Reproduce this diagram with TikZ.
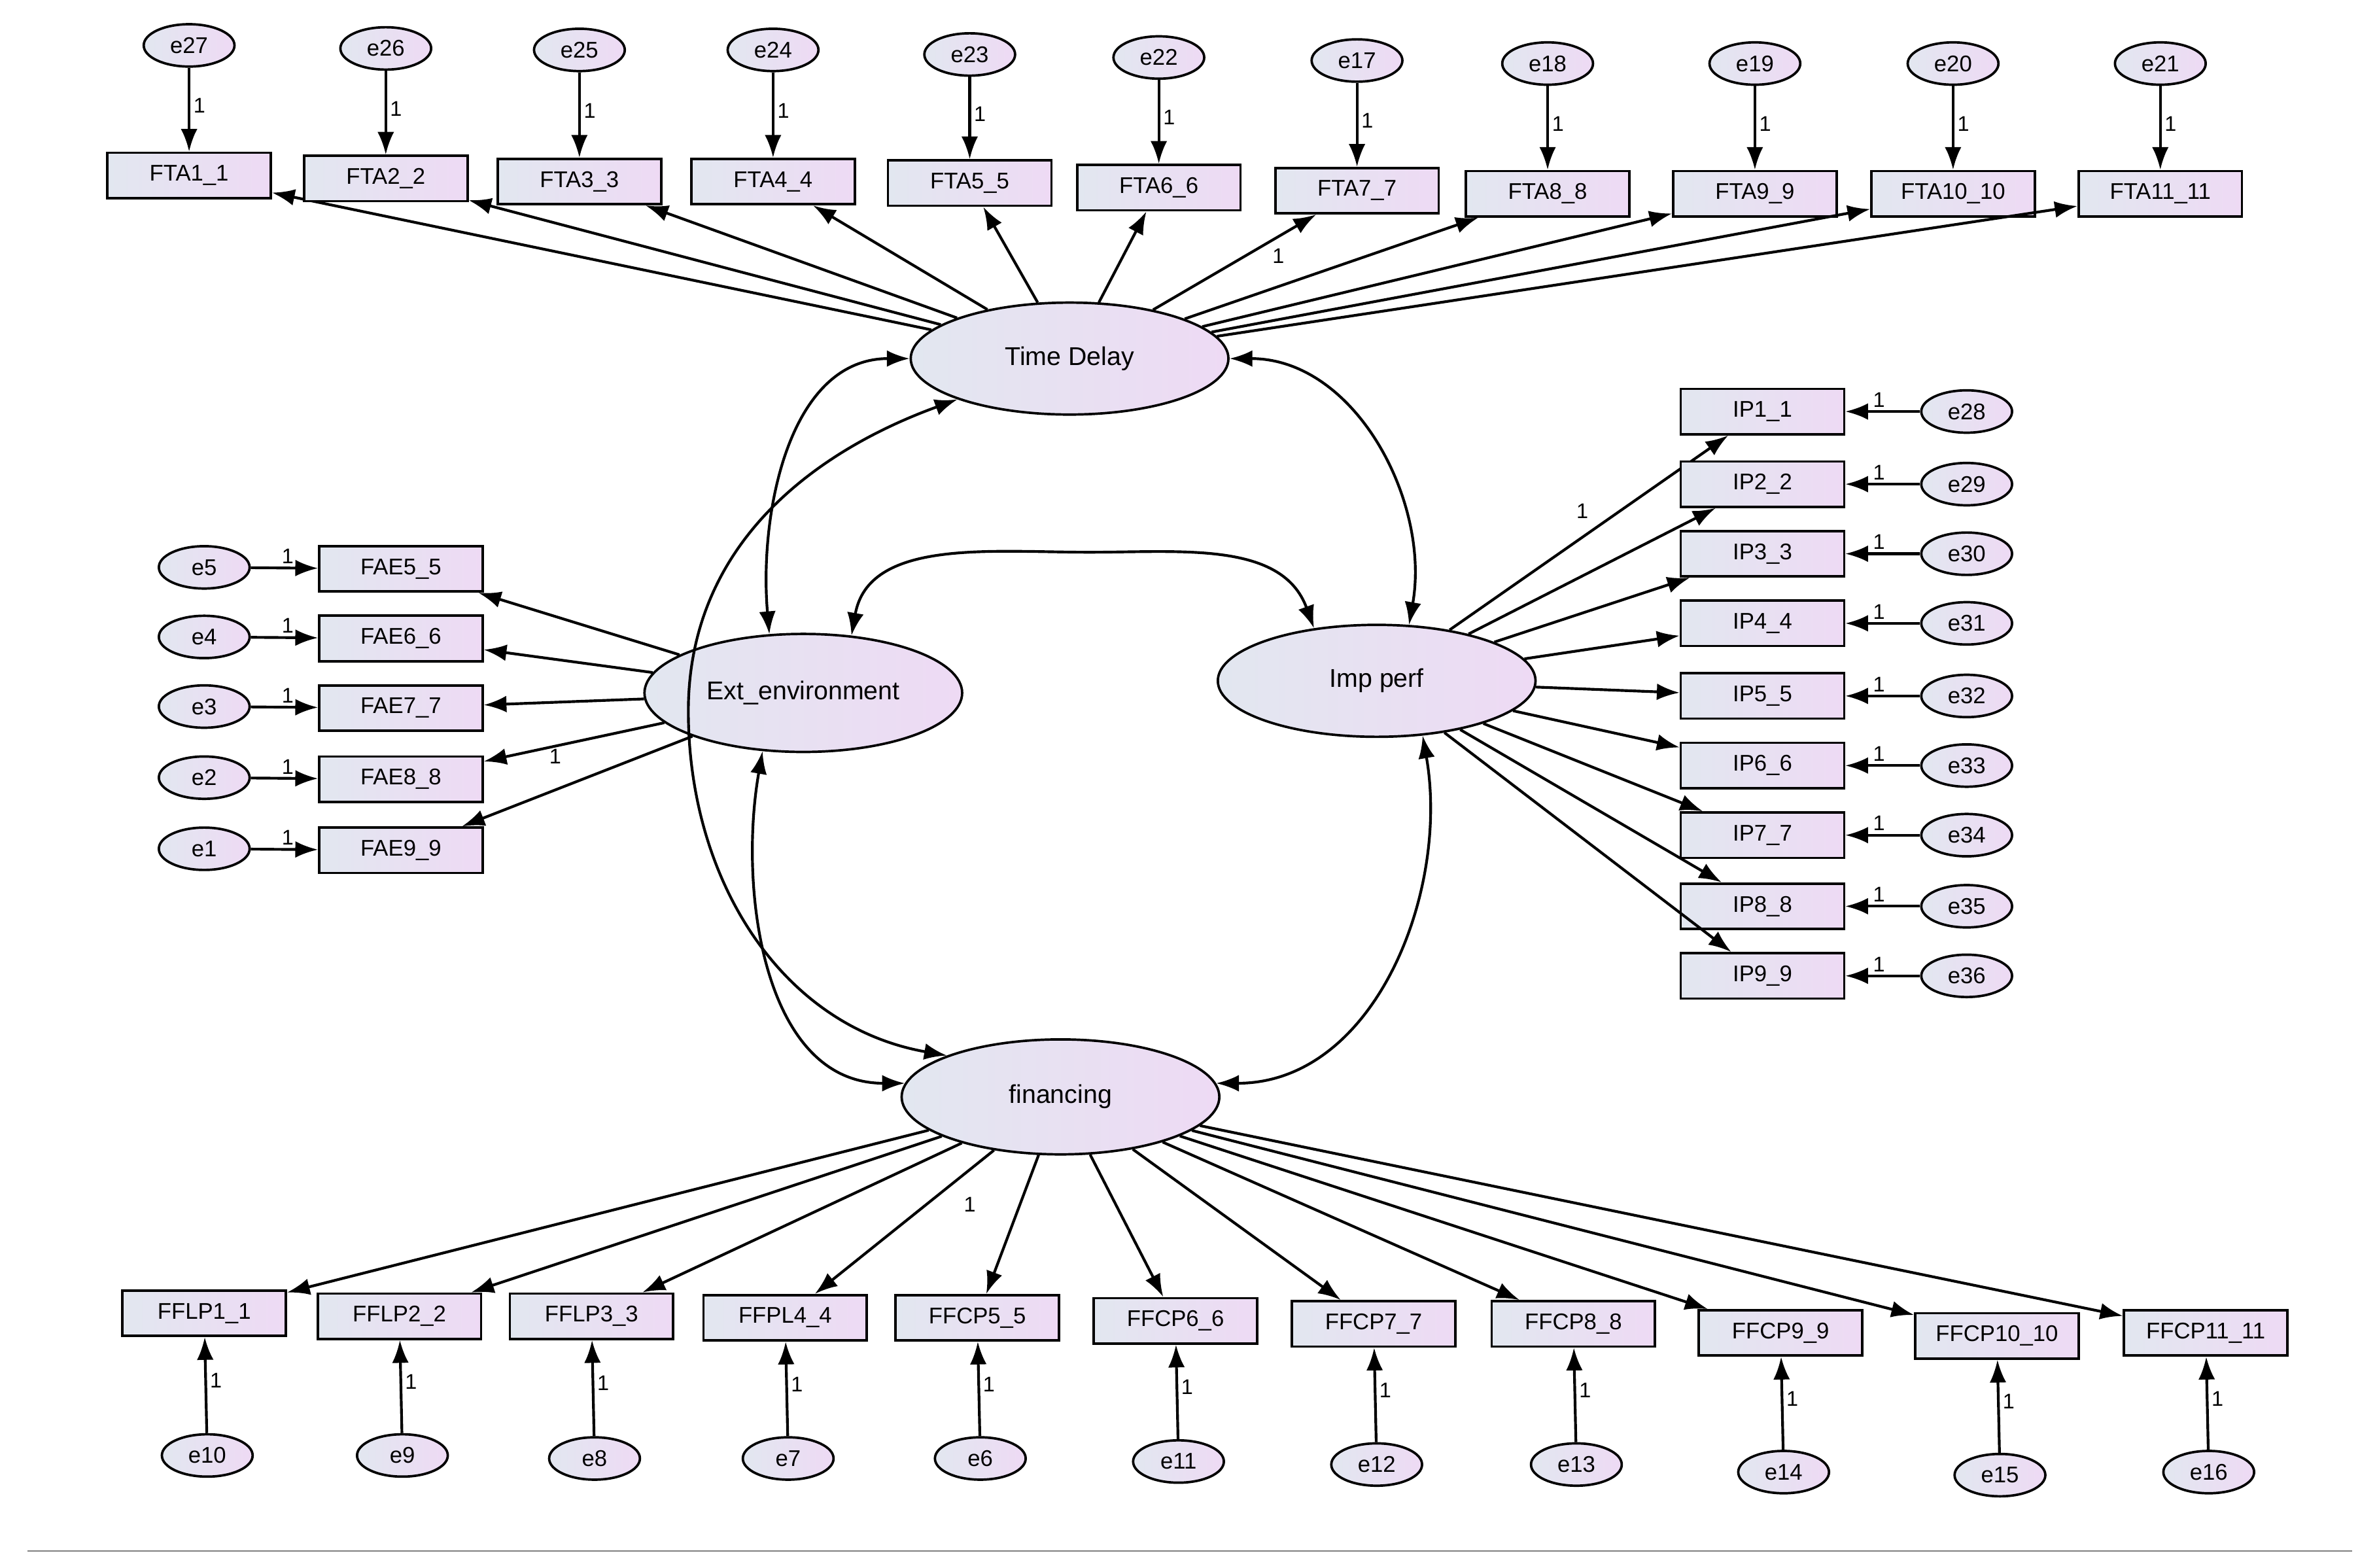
\documentclass[tikz,border=0pt]{standalone}
\usepackage{fontspec}
\setmainfont{Liberation Sans}
\usetikzlibrary{arrows.meta,shapes.geometric}
\definecolor{cL}{RGB}{226,231,240}
\definecolor{cR}{RGB}{238,218,244}
\tikzset{
 base/.style={draw=black,line width=1.6pt,left color=cL,right color=cR,font=\fontsize{15}{17}\selectfont,inner sep=0pt},
 obs/.style={base,minimum width=108pt,minimum height=30pt},
 err/.style={base,ellipse,minimum width=60pt,minimum height=28pt},
 lat/.style={base,ellipse,minimum width=210pt,minimum height=74pt,font=\fontsize{17}{19}\selectfont},
 ar/.style={line width=1.8pt,-{Latex[length=15pt,width=11pt]}},
 dar/.style={line width=1.8pt,{Latex[length=15pt,width=11pt]}-{Latex[length=15pt,width=11pt]}},
 one/.style={font=\fontsize{14}{16}\selectfont,inner sep=2pt}
}
\AtBeginDocument{\catcode`\_=12 }
\begin{document}
\begin{tikzpicture}[x=1pt,y=-1pt]
\useasboundingbox (0,0) rectangle (1560,1036);
\draw[gray,line width=1pt] (18,1025) -- (1555,1025);
% latents
\node[lat] (TD) at (707,237) {Time Delay};
\node[lat,minimum height=78pt] (EE) at (531,458) {Ext_environment};
\node[lat] (IP) at (910,450) {Imp perf};
\node[lat,minimum height=76pt] (FI) at (701,725) {financing};
% top
\foreach \n/\x/\y/\e/\ey in {FTA1_1/125/116/e27/30,FTA2_2/255/118/e26/32,FTA3_3/383/120/e25/33,FTA4_4/511/120/e24/33,FTA5_5/641/121/e23/36,FTA6_6/766/124/e22/38,FTA7_7/897/126/e17/40,FTA8_8/1023/128/e18/42,FTA9_9/1160/128/e19/42,FTA10_10/1291/128/e20/42,FTA11_11/1428/128/e21/42}{
 \node[obs] (\n) at (\x,\y) {\n};
 \node[err] (\e) at (\x,\ey) {\e};
 \draw[ar] (\e) -- node[one,pos=0.45,right]{1} (\n);
 \draw[ar] (TD) -- (\n);
}
\node[one] at (845,169) {1};
% left
\foreach \n/\y/\e in {FAE5_5/376/e5,FAE6_6/422/e4,FAE7_7/468/e3,FAE8_8/515/e2,FAE9_9/562/e1}{
 \node[obs] (\n) at (265,\y) {\n};
 \node[err] (\e) at (135,\y-1) {\e};
 \draw[ar] (\e) -- node[one,pos=0.55,above]{1} (\n);
 \draw[ar] (EE) -- (\n);
}
\node[one] at (367,500) {1};
% right
\foreach \n/\y/\e in {IP1_1/272/e28,IP2_2/320/e29,IP3_3/366/e30,IP4_4/412/e31,IP5_5/460/e32,IP6_6/506/e33,IP7_7/552/e34,IP8_8/599/e35,IP9_9/645/e36}{
 \node[obs] (\n) at (1165,\y) {\n};
 \node[err] (\e) at (1300,\y) {\e};
 \draw[ar] (\e) -- node[one,pos=0.55,above]{1} (\n);
 \draw[ar] (IP) -- (\n);
}
\node[one] at (1046,338) {1};
% bottom
\foreach \n/\x/\y/\e/\ey in {FFLP1_1/135/868/e10/962,FFLP2_2/264/870/e9/962,FFLP3_3/391/870/e8/964,FFPL4_4/519/871/e7/964,FFCP5_5/646/871/e6/964,FFCP6_6/777/873/e11/966,FFCP7_7/908/875/e12/968,FFCP8_8/1040/875/e13/968,FFCP9_9/1177/881/e14/973,FFCP10_10/1320/883/e15/975,FFCP11_11/1458/881/e16/973}{
 \node[obs] (\n) at (\x,\y) {\n};
 \node[err] (\e) at (\x+2,\ey) {\e};
 \draw[ar] (\e) -- node[one,pos=0.55,right]{1} (\n);
 \draw[ar] (FI) -- (\n);
}
\node[one] at (641,796) {1};
% covariances
\draw[dar] (TD.west) to[out=180,in=95] (EE.120);
\draw[dar] (TD.east) to[out=0,in=80] (IP.60);
\draw[dar] (EE.50) to[out=80,in=180] (720,365) to[out=0,in=110] (IP.140);
\draw[dar] (EE.235) to[out=260,in=180] (FI.175);
\draw[dar] (IP.-50) to[out=280,in=0] (FI.5);
\draw[dar] (TD.200) to[out=200,in=90] (455,470) to[out=270,in=170] (FI.160);
\end{tikzpicture}
\end{document}
